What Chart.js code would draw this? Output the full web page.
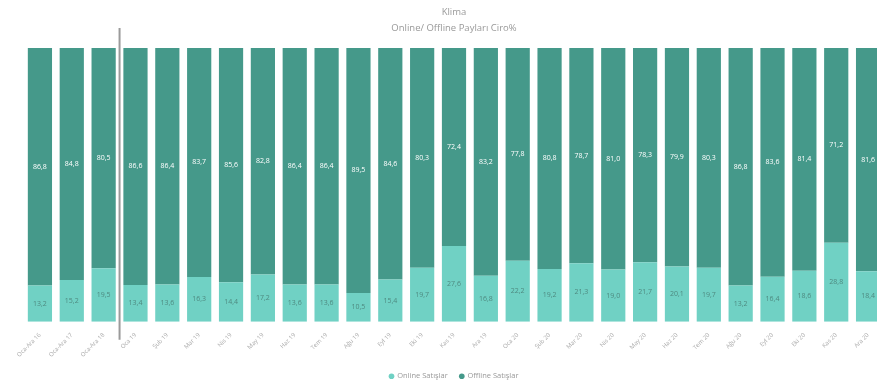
<!DOCTYPE html>
<html>
<head>
<meta charset="utf-8">
<script src="https://cdn.jsdelivr.net/npm/chart.js@4"></script>
<style>
  body { margin: 0; background: #fff; overflow: hidden; }
  #wrap { width: 900px; height: 390px; }
</style>
</head>
<body>
<div id="wrap"><canvas id="chart" width="900" height="390"></canvas></div>
<script>
// veriler
const labels = ['Oca-Ara 16','Oca-Ara 17','Oca-Ara 18','Oca 19','Şub 19','Mar 19','Nis 19','May 19','Haz 19','Tem 19','Ağu 19','Eyl 19','Eki 19','Kas 19','Ara 19','Oca 20','Şub 20','Mar 20','Nis 20','May 20','Haz 20','Tem 20','Ağu 20','Eyl 20','Eki 20','Kas 20','Ara 20'];
const online = [13.2,15.2,19.5,13.4,13.6,16.3,14.4,17.2,13.6,13.6,10.5,15.4,19.7,27.6,16.8,22.2,19.2,21.3,19.0,21.7,20.1,19.7,13.2,16.4,18.6,28.8,18.4];
const offline = [86.8,84.8,80.5,86.6,86.4,83.7,85.6,82.8,86.4,86.4,89.5,84.6,80.3,72.4,83.2,77.8,80.8,78.7,81.0,78.3,79.9,80.3,86.8,83.6,81.4,71.2,81.6];
const separatorAfter = 2; // ortalamalar ile aylar arasi cizgi

const darkTeal = '#45998a';
const lightTeal = '#70d1c4';
Chart.defaults.font.family = '"Open Sans", sans-serif';

// bar ici degerler
const valueLabels = {
  id: 'valueLabels',
  afterDatasetsDraw(chart) {
    const ctx = chart.ctx;
    ctx.save();
    ctx.font = '7px "Open Sans", sans-serif';
    ctx.textAlign = 'center';
    ctx.textBaseline = 'middle';
    chart.data.datasets.forEach((ds, i) => {
      chart.getDatasetMeta(i).data.forEach((bar, j) => {
        const y = (bar.y + bar.base) / 2;
        ctx.fillStyle = i === 0 ? '#4e8a80' : '#ffffff';
        ctx.fillText(ds.data[j].toFixed(1).replace('.', ','), bar.x, y);
      });
    });
    ctx.restore();
  }
};

// ayirici dikey cizgi
const separator = {
  id: 'separator',
  afterDatasetsDraw(chart) {
    const x = chart.scales.x.getPixelForValue(separatorAfter + 0.5);
    const ctx = chart.ctx;
    ctx.save();
    ctx.strokeStyle = '#9a9a9a';
    ctx.lineWidth = 2;
    ctx.beginPath();
    ctx.moveTo(x, chart.chartArea.top - 20);
    ctx.lineTo(x, chart.chartArea.bottom + 18);
    ctx.stroke();
    ctx.restore();
  }
};

new Chart(document.querySelector('#chart').getContext('2d'), {
  type: 'bar',
  data: {
    labels: labels,
    datasets: [
      { label: 'Online Satışlar', data: online, backgroundColor: lightTeal },
      { label: 'Offline Satışlar', data: offline, backgroundColor: darkTeal }
    ]
  },
  options: {
    responsive: false,
    animation: false,
    layout: { padding: { left: 24, right: 16, top: 0, bottom: 0 } },
    datasets: { bar: { categoryPercentage: 1, barPercentage: 0.76 } },
    scales: {
      x: {
        stacked: true,
        grid: { display: false },
        border: { display: false },
        ticks: { color: '#aaa', font: { size: 6 }, minRotation: 45, maxRotation: 45, autoSkip: false, padding: 2 }
      },
      y: { stacked: true, display: false, min: 0, max: 100 }
    },
    plugins: {
      title: {
        display: true,
        text: ['Klima', 'Online/ Offline Payları Ciro%'],
        color: '#999',
        font: { size: 9.5, weight: 'normal', lineHeight: 1.68 },
        padding: { top: 4, bottom: 12 }
      },
      legend: {
        position: 'bottom',
        labels: { usePointStyle: true, pointStyle: 'circle', boxWidth: 4, boxHeight: 4, color: '#999', font: { size: 7.5 }, padding: 12 }
      },
      tooltip: { enabled: false }
    }
  },
  plugins: [valueLabels, separator]
});
</script>
</body>
</html>
